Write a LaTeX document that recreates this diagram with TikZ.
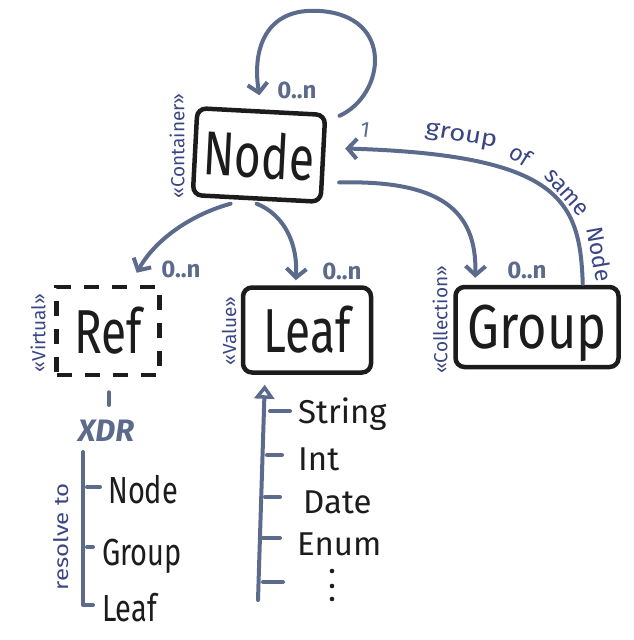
\documentclass[tikz,border=0pt]{standalone}
\usepackage{fontspec}
\setmainfont{Fira Sans}
\usetikzlibrary{arrows.meta,calc}
\definecolor{linec}{RGB}{92,106,140}
\definecolor{annot}{RGB}{58,70,132}
\definecolor{ink}{RGB}{28,28,28}
\begin{document}
\begin{tikzpicture}[x=1pt,y=-1pt,
  box/.style={draw=ink, line width=4.5pt, rounded corners=9pt, inner sep=0pt, text=ink,
              font=\fontsize{46}{46}\selectfont},
  vbox/.style={draw=ink, line width=4.5pt, dash pattern=on 15pt off 13pt, inner sep=0pt, text=ink,
              font=\fontsize{46}{46}\selectfont},
  conn/.style={draw=linec, line width=4pt, line cap=round,
               -{Straight Barb[length=9pt,width=20pt,line width=4pt]}},
  card/.style={text=linec, font=\bfseries\fontsize{24}{24}\selectfont, inner sep=1pt},
  stereo/.style={text=annot, font=\fontsize{19}{19}\selectfont, rotate=90, inner sep=1pt},
  arcword/.style={text=annot, font=\fontsize{23}{23}\selectfont, inner sep=0pt},
  itemA/.style={text=ink, font=\fontsize{29}{29}\selectfont, anchor=base west, inner sep=0pt},
  itemB/.style={text=ink, font=\fontsize{33}{33}\selectfont, anchor=base west, inner sep=0pt},
  tickline/.style={draw=linec, line width=4pt, line cap=round},
]
\useasboundingbox (0,0) rectangle (634,640);

% boxes
\node[box, minimum width=128pt, minimum height=87pt, rotate=-3] (nodebox) at (259,155)
  {\scalebox{1}[1.35]{Node}};
\node[vbox, minimum width=103pt, minimum height=88pt] (refbox) at (108,331)
  {\scalebox{1}[1.35]{Ref}};
\node[box, minimum width=128pt, minimum height=85pt] (leafbox) at (307,330)
  {\scalebox{1}[1.35]{Leaf}};
\node[box, minimum width=163pt, minimum height=80pt, text depth=0pt] (groupbox) at (537,327)
  {\scalebox{1.1}[1.35]{Group}};

% stereotypes
\node[stereo] (stcont) at (177,146) {«Container»};
\node[stereo] (stvirt) at (38,333) {«Virtual»};
\node[stereo] (stval) at (229,331) {«Value»};
\node[stereo] (stcoll) at (440,320) {«Collection»};

% connectors
\draw[conn] ($(nodebox.north east)+(12,3)$) .. controls (385,95) and (395,16) .. (320,11)
  .. controls (265,7) and (252,50) .. ($(nodebox.north)+(-2,-14)$);
\draw[conn] ($(groupbox.north east)+(-38,-1)$) .. controls (580,200) and (560,155) .. ($(nodebox.east)+(20,-10)$);
\draw[conn] ($(nodebox.east)+(14,24)$) .. controls (440,180) and (477,210) .. ($(groupbox.north west)+(22,-7)$);
\draw[conn] ($(nodebox.south)+(-26,3)$) .. controls (190,215) and (155,240) .. ($(refbox.north east)+(-25,-12)$);
\draw[conn] ($(nodebox.south)+(0,3)$) .. controls (285,215) and (298,245) .. ($(leafbox.north west)+(55,-5)$);

% cardinalities
\node[card] (c1) at (297,90) {0..n};
\node[card] (c2) at (181,269) {0..n};
\node[card] (c3) at (342,271) {0..n};
\node[card] (c4) at (527,270) {0..n};
\node[card, font=\fontsize{22}{22}\selectfont, rotate=-8] (c5) at (365,130) {1};

% label along the group arc
\node[arcword, rotate=-10] (w1) at (461,137) {\scalebox{1.2}[1]{group}};
\node[arcword, rotate=-32] (w2) at (521,155) {of};
\node[arcword, rotate=-48] (w3) at (566,193) {same};
\node[arcword, rotate=-80] (w4) at (600,254) {Node};

% Ref branch
\coordinate (reftick) at (109,405);
\draw[tickline] ($(refbox.south)+(1,15)$) -- (reftick);
\node[text=linec, font=\bfseries\itshape\fontsize{31}{31}\selectfont] (xdr) at (106,431) {XDR};
\coordinate (brtop) at (83,452);
\coordinate (brbot) at (83,605);
\coordinate (brend) at (93,605);
\draw[tickline, line join=round] (brtop) -- (brbot) -- (brend);
\draw[tickline] (87,487) -- (100,487);
\draw[tickline] (87,547) -- (93,547);
\node[text=annot, font=\fontsize{20}{20}\selectfont, rotate=90] (resolve) at (61,537)
  {\scalebox{1.2}[1]{resolve to}};
\node[itemA] (rnode) at (108,503) {\scalebox{1}[1.3]{Node}};
\node[itemA] (rgroup) at (102,565) {\scalebox{1}[1.3]{Group}};
\node[itemA] (rleaf) at (102,621) {\scalebox{1}[1.3]{Leaf}};

% Leaf value list
\coordinate (vbottom) at (258,600);
\draw[draw=linec, line width=4pt, line cap=round,
  -{Triangle[open,length=14pt,width=20pt,line width=3.5pt]}]
  (vbottom) -- ($(leafbox.south west)+(24,10)$);
\draw[tickline] (270,411) -- (290,411);
\draw[tickline] (267,455) -- (282,455);
\draw[tickline] (265,497) -- (280,497);
\draw[tickline] (263,538) -- (280,538);
\draw[tickline] (263,582) -- (283,582);
\node[itemB] (vstring) at (298,423) {String};
\node[itemB] (vint) at (298,470) {Int};
\node[itemB] (vdate) at (303,513) {Date};
\node[itemB] (venum) at (297,555) {Enum};
\fill[ink] (332,571) circle (2.3pt) (332,586) circle (2.3pt) (332,599) circle (2.3pt);
\end{tikzpicture}
\end{document}
